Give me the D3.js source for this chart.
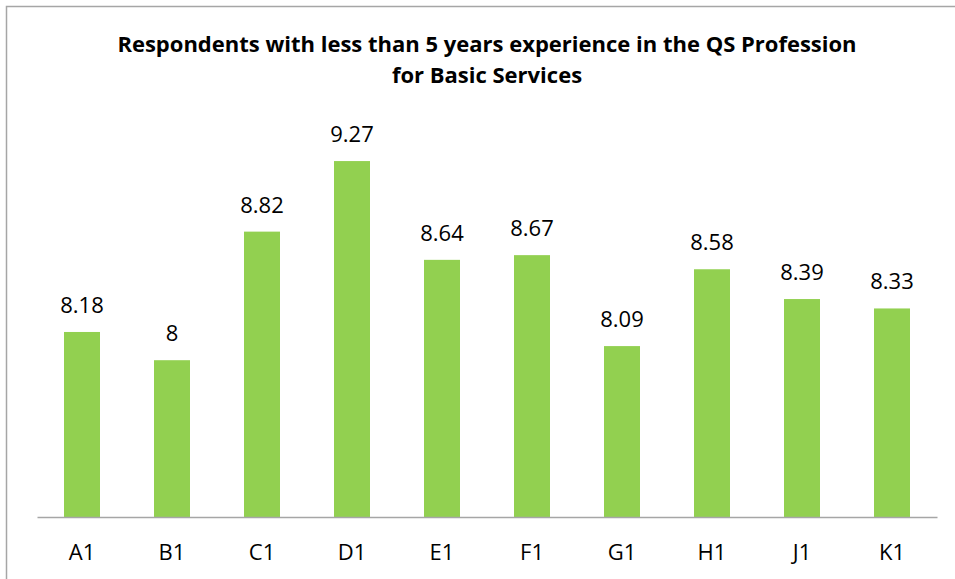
<!DOCTYPE html>
<html>
<head>
<meta charset="utf-8">
<script src="https://cdn.jsdelivr.net/npm/d3@7"></script>
<style>
  body { margin: 0; background: #fff; }
  svg { display: block; }
</style>
</head>
<body>
<svg id="chart" width="955" height="579"></svg>
<script>
// chart values
const categories = ["A1", "B1", "C1", "D1", "E1", "F1", "G1", "H1", "J1", "K1"];
const values = [8.18, 8, 8.82, 9.27, 8.64, 8.67, 8.09, 8.58, 8.39, 8.33];
const titleLines = ["Respondents with less than 5 years experience in the QS Profession", "for Basic Services"];
const yDomain = [7, 9.5];

const svg = d3.select("#chart");
const font = "'Open Sans', 'Noto Sans', sans-serif";

// outer frame of the chart area
svg.append("rect")
    .attr("x", 6.5).attr("y", 6.5)
    .attr("width", 960).attr("height", 600)
    .attr("fill", "#fff")
    .attr("stroke", "#a6a6a6")
    .attr("stroke-width", 1.5);

let plot = {left: 37, right: 937, top: 125, bottom: 517};

let x = d3.scaleBand().domain(categories).range([plot.left, plot.right]).paddingInner(0.6).paddingOuter(0.3);
let y = d3.scaleLinear().domain(yDomain).range([plot.bottom, plot.top]);

// title
svg.append("g").selectAll("text")
    .data(titleLines)
    .enter().append("text")
    .attr("x", 487)
    .attr("y", (d, i) => 52 + i * 31)
    .attr("text-anchor", "middle")
    .style("font-family", font)
    .style("font-weight", "bold")
    .style("font-size", "22px")
    .attr("fill", "#000")
    .text(d => d);

// bars
svg.append("g").selectAll("rect")
    .data(values)
    .enter().append("rect")
    .attr("x", (d, i) => x(categories[i]))
    .attr("y", d => y(d))
    .attr("width", x.bandwidth())
    .attr("height", d => plot.bottom - y(d))
    .attr("fill", "#92d050");

// value labels
svg.append("g").selectAll("text")
    .data(values)
    .enter().append("text")
    .attr("x", (d, i) => x(categories[i]) + x.bandwidth() / 2)
    .attr("y", d => y(d) - 19)
    .attr("text-anchor", "middle")
    .style("font-family", font)
    .style("font-size", "22px")
    .attr("fill", "#000")
    .text(d => d);

// category axis
let xAxis = d3.axisBottom(x).tickSize(0).tickPadding(27);
let ax = svg.append("g")
    .attr("transform", "translate(0," + plot.bottom + ")")
    .call(xAxis);
ax.select(".domain").attr("stroke", "#a6a6a6").attr("stroke-width", 1.5);
ax.selectAll("text")
    .style("font-family", font)
    .style("font-size", "22px")
    .attr("fill", "#000");
</script>
</body>
</html>
